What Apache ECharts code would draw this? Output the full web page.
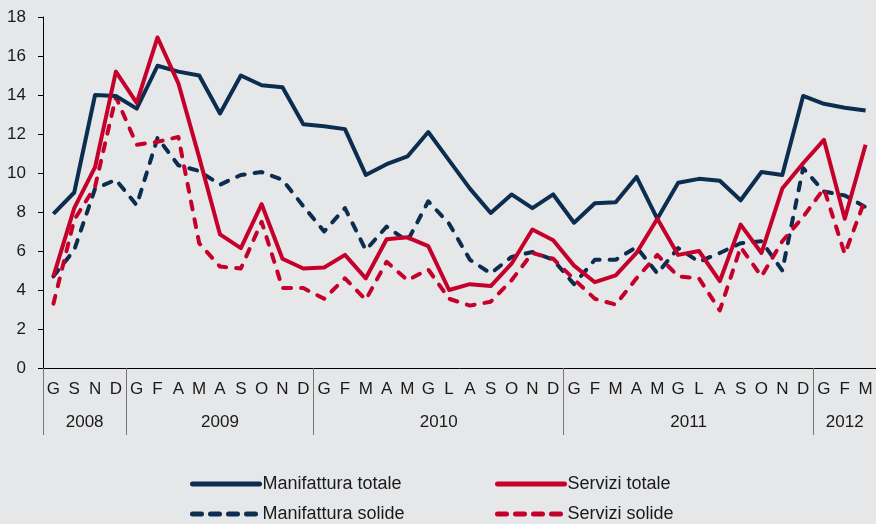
<!DOCTYPE html>
<html>
<head>
<meta charset="utf-8">
<script src="https://cdn.jsdelivr.net/npm/echarts@6/dist/echarts.min.js"></script>
<style>
  html, body { margin: 0; padding: 0; background: #e6e7e9; }
  #chart { width: 876px; height: 524px; }
</style>
</head>
<body>
<div id="chart"></div>
<script>
// mesi (etichette asse x)
const months = [
  "G", "S", "N", "D",
  "G", "F", "A", "M", "A", "S", "O", "N", "D",
  "G", "F", "M", "A", "M", "G", "L", "A", "S", "O", "N", "D",
  "G", "F", "M", "A", "M", "G", "L", "A", "S", "O", "N", "D",
  "G", "F", "M"
];
// anni e dove iniziano
const years = ["2008", "2009", "2010", "2011", "2012"];
const yearStart = [0, 4, 13, 25, 37];
const yearEnd = [4, 13, 25, 37, 40];

const manifatturaTotale = [7.9, 9.0, 14.0, 13.95, 13.3, 15.5, 15.2, 15.0, 13.05, 15.0, 14.5, 14.4, 12.5,
  12.4, 12.25, 9.9, 10.45, 10.85, 12.1, 10.65, 9.2, 7.95, 8.9, 8.2, 8.9,
  7.45, 8.45, 8.5, 9.8, 7.65, 9.5, 9.7, 9.6, 8.6, 10.05, 9.9, 13.95,
  13.55, 13.35, 13.2];
const serviziTotale = [4.7, 8.2, 10.3, 15.2, 13.6, 16.95, 14.6, 10.8, 6.85, 6.15, 8.4, 5.6, 5.1,
  5.15, 5.8, 4.6, 6.6, 6.7, 6.25, 4.0, 4.3, 4.2, 5.35, 7.1, 6.55,
  5.25, 4.4, 4.75, 5.9, 7.65, 5.8, 6.0, 4.45, 7.35, 5.9, 9.2, 10.5,
  11.7, 7.65, 11.45];
const manifatturaSolide = [4.7, 6.05, 9.2, 9.65, 8.35, 11.8, 10.4, 10.1, 9.4, 9.9, 10.05, 9.65, 8.3,
  7.0, 8.2, 6.05, 7.25, 6.5, 8.55, 7.4, 5.55, 4.85, 5.7, 5.95, 5.55,
  4.3, 5.55, 5.55, 6.2, 4.85, 6.15, 5.45, 5.9, 6.4, 6.5, 5.0, 10.25,
  9.05, 8.85, 8.25];
const serviziSolide = [3.3, 7.6, 9.3, 13.9, 11.45, 11.6, 11.85, 6.4, 5.2, 5.1, 7.5, 4.1, 4.1,
  3.55, 4.6, 3.5, 5.45, 4.5, 5.05, 3.55, 3.2, 3.4, 4.5, 5.9, 5.6,
  4.55, 3.55, 3.25, 4.6, 5.8, 4.7, 4.6, 2.95, 6.2, 4.7, 6.5, 7.75,
  9.2, 5.85, 8.7];

const navy = "#0b2d50";
const red = "#c4002b";
const font = "Liberation Sans, Arial, sans-serif";
const txt = "#1a1a1a";

// centro di ogni anno sull'asse valore 0..40
const yearCenter = years.map((y, i) => (yearStart[i] + yearEnd[i]) / 2);

let myChart = echarts.init(document.getElementById("chart"));

function line(name, data, color, dashed) {
  return {
    name: name,
    type: "line",
    data: data,
    symbol: "none",
    smooth: false,
    lineStyle: {
      color: color,
      width: 4,
      type: dashed ? [8, 10] : "solid",
      cap: dashed ? "round" : "butt",
      join: "round"
    },
    itemStyle: { color: color }
  };
}

// una legenda per voce, così non va a capo
function legendItem(name, left, top, dashed) {
  return {
    left: left,
    top: top,
    itemWidth: 67,
    itemHeight: 14,
    itemStyle: { opacity: 0 },
    lineStyle: { width: 5, cap: "round", type: dashed ? [9, 9] : "solid" },
    textStyle: { color: txt, fontSize: 18, fontFamily: font, padding: [0, 0, 0, -2] },
    data: [name]
  };
}

let option = {
  backgroundColor: "#e6e7e9",
  animation: false,
  textStyle: { fontFamily: font },
  grid: { left: 43, top: 17, width: 840, height: 351 },
  legend: [
    legendItem("Manifattura totale", 185, 470, false),
    legendItem("Servizi totale", 490, 470, false),
    legendItem("Manifattura solide", 185, 500, true),
    legendItem("Servizi solide", 490, 500, true)
  ],
  xAxis: [
    {
      type: "category",
      data: months,
      boundaryGap: true,
      axisLine: { show: true, lineStyle: { color: "#000", width: 1 } },
      axisTick: { show: false },
      axisLabel: { interval: 0, color: txt, fontSize: 17, fontFamily: font, margin: 13 }
    },
    {
      type: "value",
      min: 0,
      max: 40,
      position: "bottom",
      axisLine: { show: false },
      splitLine: { show: false },
      axisTick: {
        show: true,
        customValues: yearStart,
        length: 67,
        lineStyle: { color: "#777", width: 1 }
      },
      axisLabel: {
        customValues: yearCenter,
        color: txt, fontSize: 17, fontFamily: font, margin: 46,
        formatter: function (v) {
          let i = yearCenter.indexOf(v);
          return i >= 0 ? years[i] : "";
        }
      }
    }
  ],
  yAxis: {
    type: "value",
    min: 0,
    max: 18,
    interval: 2,
    axisLine: { show: true, lineStyle: { color: "#000", width: 1 } },
    axisTick: { show: true, length: 5, lineStyle: { color: "#000" } },
    splitLine: { show: false },
    axisLabel: { color: txt, fontSize: 17, fontFamily: font, margin: 17 }
  },
  series: [
    line("Manifattura solide", manifatturaSolide, navy, true),
    line("Servizi solide", serviziSolide, red, true),
    line("Manifattura totale", manifatturaTotale, navy, false),
    line("Servizi totale", serviziTotale, red, false)
  ]
};

myChart.setOption(option);
</script>
</body>
</html>
